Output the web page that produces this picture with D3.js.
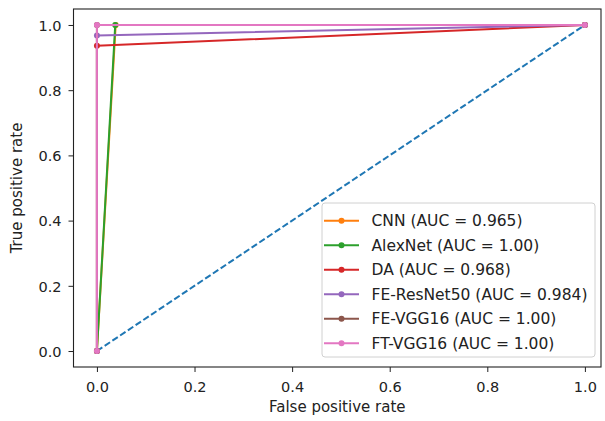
<!DOCTYPE html>
<html><head><meta charset="utf-8">
<script src="https://cdn.jsdelivr.net/npm/d3@7"></script>
<style>html,body{margin:0;padding:0;background:#fff;}svg{display:block;}</style>
</head><body>
<svg id="chart" width="605" height="421"></svg>
<script>
// ---- data ----
const seriesNames = ["CNN", "AlexNet", "DA", "FE-ResNet50", "FE-VGG16", "FT-VGG16"];
const aucLabels = ["0.965", "1.00", "0.968", "0.984", "1.00", "1.00"];
const fprValues = [
  [0, 0.0385, 1],
  [0, 0.0375, 1],
  [0, 0, 1],
  [0, 0, 1],
  [0, 0, 1],
  [0, 0, 1]
];
const tprValues = [
  [0, 1, 1],
  [0, 1, 1],
  [0, 0.936, 1],
  [0, 0.968, 1],
  [0, 1, 1],
  [0, 1, 1]
];
const chanceX = [0, 1];
const chanceY = [0, 1];
const tickValues = [0, 0.2, 0.4, 0.6, 0.8, 1.0];
const colors = ["#ff7f0e", "#2ca02c", "#d62728", "#9467bd", "#8c564b", "#e377c2"];

// ---- layout ----
const L = 73.5, R = 601, T = 9, B = 367;
const x = d3.scaleLinear().domain([-0.048, 1.033]).range([L, R]);
const y = d3.scaleLinear().domain([-0.049, 1.049]).range([B, T]);
const svg = d3.select("#chart");
const font = "DejaVu Sans, sans-serif";

const line = d3.line().x(d => x(d[0])).y(d => y(d[1]));

// chance line
svg.append("path")
  .attr("d", line(chanceX.map((v, i) => [v, chanceY[i]])))
  .attr("fill", "none").attr("stroke", "#1f77b4").attr("stroke-width", 2)
  .attr("stroke-dasharray", "6.5,2.8");

// curves
seriesNames.forEach((name, i) => {
  const pts = fprValues[i].map((v, j) => [v, tprValues[i][j]]);
  svg.append("path").attr("d", line(pts))
    .attr("fill", "none").attr("stroke", colors[i]).attr("stroke-width", 2)
    .attr("stroke-linejoin", "round");
  svg.selectAll(null).data(pts).enter().append("circle")
    .attr("cx", d => x(d[0])).attr("cy", d => y(d[1])).attr("r", 3)
    .attr("fill", colors[i]);
});

// axes
const xAxis = svg.append("g").attr("transform", `translate(0,${B})`)
  .call(d3.axisBottom(x).tickValues(tickValues).tickSize(5).tickFormat(d3.format(".1f")));
xAxis.select(".domain").remove();
xAxis.selectAll("text").attr("y", 25).attr("dy", 0)
  .attr("font-family", font).attr("font-size", 14.5).attr("fill", "#222");
xAxis.selectAll("line").attr("stroke", "#222");

const yAxis = svg.append("g").attr("transform", `translate(${L},0)`)
  .call(d3.axisLeft(y).tickValues(tickValues).tickSize(5).tickFormat(d3.format(".1f")));
yAxis.select(".domain").remove();
yAxis.selectAll("text").attr("x", -12).attr("dy", "0.36em")
  .attr("font-family", font).attr("font-size", 14.5).attr("fill", "#222");
yAxis.selectAll("line").attr("stroke", "#222");

// frame
svg.append("rect").attr("x", L).attr("y", T).attr("width", R - L).attr("height", B - T)
  .attr("fill", "none").attr("stroke", "#222").attr("stroke-width", 1.1);

// labels
svg.append("text").attr("x", (L + R) / 2).attr("y", 412).attr("text-anchor", "middle")
  .attr("font-family", font).attr("font-size", 15).attr("fill", "#222").text("False positive rate");
svg.append("text").attr("transform", `translate(22,${(T + B) / 2}) rotate(-90)`)
  .attr("text-anchor", "middle")
  .attr("font-family", font).attr("font-size", 15).attr("fill", "#222").text("True positive rate");

// legend
const lg = svg.append("g");
lg.append("rect").attr("x", 322).attr("y", 203).attr("width", 273).attr("height", 154)
  .attr("rx", 3).attr("fill", "#fff").attr("fill-opacity", 0.8)
  .attr("stroke", "#d0d0d0").attr("stroke-width", 1);
seriesNames.forEach((name, i) => {
  const cy = 220.7 + i * 24.5;
  lg.append("line").attr("x1", 324).attr("x2", 359).attr("y1", cy).attr("y2", cy)
    .attr("stroke", colors[i]).attr("stroke-width", 2);
  lg.append("circle").attr("cx", 341.5).attr("cy", cy).attr("r", 3).attr("fill", colors[i]);
  lg.append("text").attr("x", 371.5).attr("y", cy).attr("dy", "0.36em")
    .attr("font-family", font).attr("font-size", 15.5).attr("fill", "#222")
    .text(`${name} (AUC = ${aucLabels[i]})`);
});
</script>
</body></html>
